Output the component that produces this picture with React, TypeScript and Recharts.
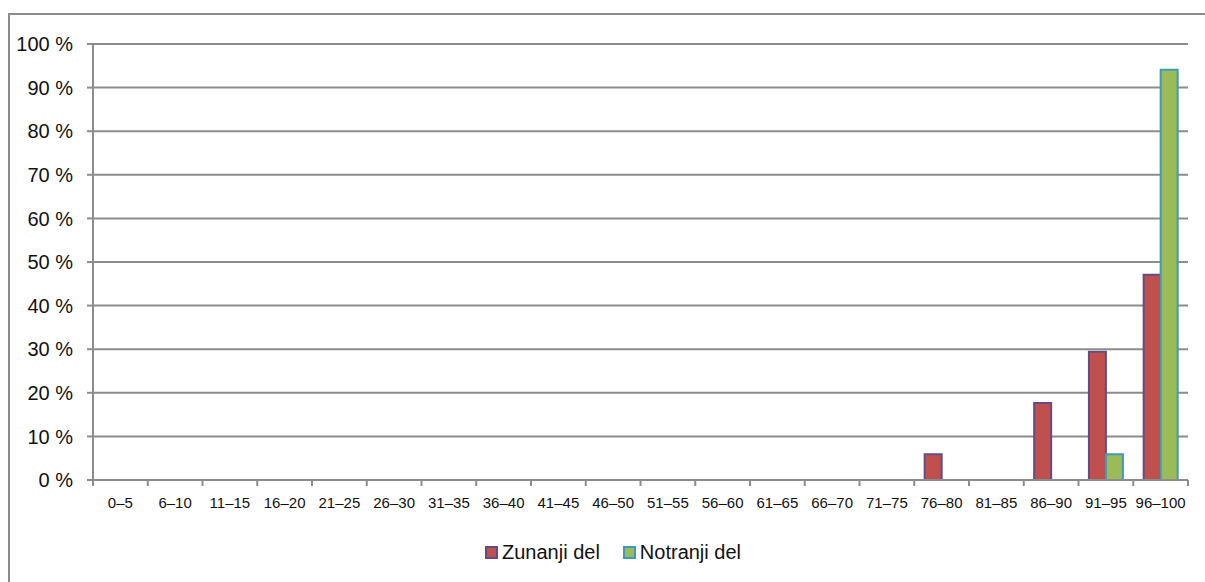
import React from 'react';
import { BarChart, Bar, XAxis, YAxis, CartesianGrid, Legend } from 'recharts';

const categories = [
  '0–5', '6–10', '11–15', '16–20', '21–25', '26–30', '31–35', '36–40', '41–45', '46–50',
  '51–55', '56–60', '61–65', '66–70', '71–75', '76–80', '81–85', '86–90', '91–95', '96–100',
];
const zunanji = [0, 0, 0, 0, 0, 0, 0, 0, 0, 0, 0, 0, 0, 0, 0, 5.88, 0, 17.65, 29.41, 47.06];
const notranji = [0, 0, 0, 0, 0, 0, 0, 0, 0, 0, 0, 0, 0, 0, 0, 0, 0, 0, 5.88, 94.12];
const yTicks = [0, 10, 20, 30, 40, 50, 60, 70, 80, 90, 100];

const data = categories.map((name, i) => ({
  name,
  'Zunanji del': zunanji[i],
  'Notranji del': notranji[i],
}));

const W = 1205;
const H = 582;
const AXIS_W = 93;
const RIGHT = 17;
const STEP = (W - AXIS_W - RIGHT) / categories.length;
const GRAY = '#8c8c8c';
const FONT = '"Liberation Sans", Arial, sans-serif';

const XTick = (props: any) => {
  const { x, y, payload, index } = props;
  return (
    <g>
      <line x1={x - STEP / 2} x2={x - STEP / 2} y1={y} y2={y + 6} stroke={GRAY} strokeWidth={2} />
      {index === categories.length - 1 && (
        <line x1={x + STEP / 2} x2={x + STEP / 2} y1={y} y2={y + 6} stroke={GRAY} strokeWidth={2} />
      )}
      <text x={x} y={y + 17} dy="0.71em" textAnchor="middle" fontSize={15} fill="#111" fontFamily={FONT}>
        {payload.value}
      </text>
    </g>
  );
};

const LegendContent = () => (
  <div style={{ height: 32, display: 'flex', alignItems: 'flex-end', paddingLeft: 485, fontFamily: FONT, fontSize: 20, lineHeight: '20px', color: '#111' }}>
    <span style={{ display: 'inline-block', width: 9, height: 9, background: '#C0504D', border: '2px solid #634C86', marginRight: 4, marginBottom: 3 }} />
    <span style={{ marginRight: 23 }}>Zunanji del</span>
    <span style={{ display: 'inline-block', width: 9, height: 9, background: '#9BBB59', border: '2px solid #3E9AB8', marginRight: 4, marginBottom: 3 }} />
    <span>Notranji del</span>
  </div>
);

export default function App() {
  return (
    <div style={{ position: 'absolute', left: 0, top: 0, width: W, height: H, overflow: 'hidden', background: '#fff' }}>
      <div style={{ position: 'absolute', left: 8, top: 13, width: W, height: H, borderTop: `2px solid ${GRAY}`, borderLeft: `2px solid ${GRAY}` }} />
      <div style={{ position: 'absolute', left: 0, top: 0 }}>
        <BarChart
          width={W}
          height={H}
          data={data}
          margin={{ top: 44, right: RIGHT, left: 0, bottom: 20 }}
          barCategoryGap="19%"
          barGap={0}
        >
          <CartesianGrid vertical={false} stroke={GRAY} strokeWidth={2} />
          <XAxis
            dataKey="name"
            height={50}
            axisLine={{ stroke: GRAY, strokeWidth: 2 }}
            tickLine={false}
            tickSize={0}
            tickMargin={0}
            interval={0}
            tick={<XTick />}
          />
          <YAxis
            width={AXIS_W}
            domain={[0, 100]}
            ticks={yTicks}
            tickFormatter={(v: number) => `${v} %`}
            axisLine={{ stroke: GRAY, strokeWidth: 2 }}
            tickLine={{ stroke: GRAY, strokeWidth: 2 }}
            tickSize={6}
            tickMargin={14}
            tick={{ fontSize: 20, fill: '#111', fontFamily: FONT }}
          />
          <Legend verticalAlign="bottom" content={<LegendContent />} />
          <Bar dataKey="Zunanji del" fill="#C0504D" stroke="#634C86" strokeWidth={2} isAnimationActive={false} />
          <Bar dataKey="Notranji del" fill="#9BBB59" stroke="#3E9AB8" strokeWidth={2} isAnimationActive={false} />
        </BarChart>
      </div>
    </div>
  );
}
